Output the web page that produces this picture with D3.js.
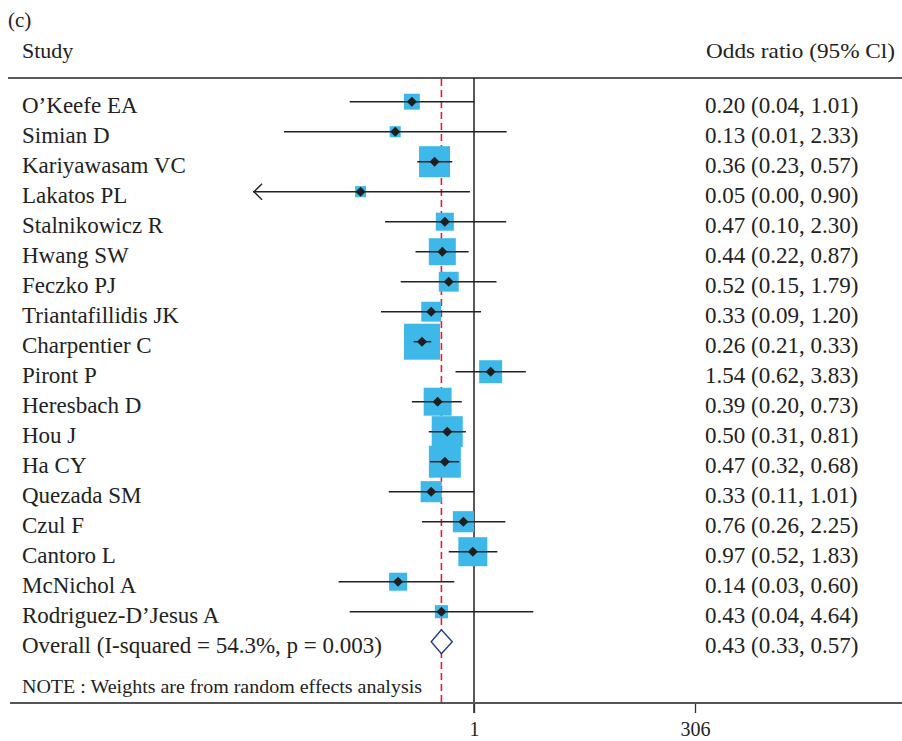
<!DOCTYPE html>
<html>
<head>
<meta charset="utf-8">
<script src="https://cdn.jsdelivr.net/npm/d3@7"></script>
<style>
  html, body { margin: 0; padding: 0; background: #ffffff; }
  svg { display: block; }
  text { font-family: "Liberation Serif", "DejaVu Serif", serif; fill: #222; }
</style>
</head>
<body>
<svg id="chart" width="902" height="741"></svg>
<script>
// ==============================
// DATA
// ==============================

const studies = [
  "O\u2019Keefe EA", "Simian D", "Kariyawasam VC", "Lakatos PL", "Stalnikowicz R",
  "Hwang SW", "Feczko PJ", "Triantafillidis JK", "Charpentier C", "Piront P",
  "Heresbach D", "Hou J", "Ha CY", "Quezada SM", "Czul F", "Cantoro L",
  "McNichol A", "Rodriguez-D\u2019Jesus A"
];

const oddsRatios = [0.20, 0.13, 0.36, 0.053, 0.47, 0.44, 0.52, 0.33, 0.26, 1.54, 0.39, 0.50, 0.47, 0.33, 0.76, 0.97, 0.14, 0.43];
const ciLower    = [0.04, 0.0073, 0.23, 0.0001, 0.10, 0.22, 0.15, 0.09, 0.21, 0.62, 0.20, 0.31, 0.32, 0.11, 0.26, 0.52, 0.03, 0.04];
const ciUpper    = [1.01, 2.33, 0.57, 0.90, 2.30, 0.87, 1.79, 1.20, 0.33, 3.83, 0.73, 0.81, 0.68, 1.01, 2.25, 1.83, 0.60, 4.64];
// weights (%)
const weights    = [2.5, 1.2, 9.5, 1.2, 3.2, 7.2, 3.9, 3.9, 12.8, 5.2, 7.7, 9.5, 10.1, 4.4, 4.4, 8.3, 3.2, 1.7];

const overallLabel = "Overall (I-squared = 54.3%, p = 0.003)";
const overall = { or: 0.43, lo: 0.33, hi: 0.57 };

const tickValues = [1, 306];
const axisDomain = [1 / 306, 306];

// ==============================
// SETUP
// ==============================

const svg = d3.select("#chart");

const x = d3.scaleLog().domain(axisDomain).range([253, 695]);
const y = d3.scalePoint().domain([...studies, overallLabel]).range([101.7, 641.7]);
const boxSize = d3.scaleSqrt().domain([0, 12.8]).range([0, 36]);

const fmt = v => v.toFixed(2);
const rows = studies.map((name, i) => ({
  name, or: oddsRatios[i], lo: ciLower[i], hi: ciUpper[i], w: weights[i]
}));

const colX = 22;
const rightX = 705;
const textDy = 11;
const rowFont = 23;

// ==============================
// HEADER
// ==============================

svg.append("text").attr("x", 8).attr("y", 27).attr("font-size", 21).text("(c)");
svg.append("text").attr("x", colX).attr("y", 58).attr("font-size", 22).text("Study");
svg.append("text").attr("x", 706).attr("y", 58).attr("font-size", 22)
  .attr("textLength", 189).attr("lengthAdjust", "spacingAndGlyphs")
  .text("Odds ratio (95% Cl)");

svg.append("line")
  .attr("x1", 8).attr("x2", 902).attr("y1", 78).attr("y2", 78)
  .attr("stroke", "#222").attr("stroke-width", 1.6);

// ==============================
// REFERENCE LINES
// ==============================

svg.append("line")
  .attr("x1", x(1)).attr("x2", x(1)).attr("y1", 78).attr("y2", 713)
  .attr("stroke", "#222").attr("stroke-width", 1.5);

svg.append("line")
  .attr("x1", x(overall.or)).attr("x2", x(overall.or)).attr("y1", 79).attr("y2", 703)
  .attr("stroke", "#f0183a").attr("stroke-width", 1.6)
  .attr("stroke-dasharray", "7,4");

// ==============================
// STUDY ROWS
// ==============================

const g = svg.append("g");

// weight boxes
g.selectAll("rect.box")
  .data(rows)
  .enter()
  .append("rect")
  .attr("class", "box")
  .attr("x", d => x(d.or) - boxSize(d.w) / 2)
  .attr("y", d => y(d.name) - boxSize(d.w) / 2)
  .attr("width", d => boxSize(d.w))
  .attr("height", d => boxSize(d.w))
  .attr("fill", "#3db8e8");

// confidence intervals
g.selectAll("line.ci")
  .data(rows)
  .enter()
  .append("line")
  .attr("class", "ci")
  .attr("x1", d => x(Math.max(d.lo, axisDomain[0])))
  .attr("x2", d => x(Math.min(d.hi, axisDomain[1])))
  .attr("y1", d => y(d.name))
  .attr("y2", d => y(d.name))
  .attr("stroke", "#222")
  .attr("stroke-width", 1.5);

// arrows for clipped intervals
g.selectAll("path.arrow")
  .data(rows.filter(d => d.lo < axisDomain[0]))
  .enter()
  .append("path")
  .attr("class", "arrow")
  .attr("d", d => {
    const tx = x(axisDomain[0]) + 1;
    const ty = y(d.name);
    return `M${tx + 8},${ty - 8} L${tx},${ty} L${tx + 8},${ty + 8}`;
  })
  .attr("fill", "none")
  .attr("stroke", "#222")
  .attr("stroke-width", 1.4);

// point estimates
g.selectAll("path.point")
  .data(rows)
  .enter()
  .append("path")
  .attr("class", "point")
  .attr("d", d => {
    const cx = x(d.or), cy = y(d.name), r = 5;
    return `M${cx},${cy - r} L${cx + r},${cy} L${cx},${cy + r} L${cx - r},${cy} Z`;
  })
  .attr("fill", "#1e1e1e");

// labels
g.selectAll("text.study")
  .data(rows)
  .enter()
  .append("text")
  .attr("class", "study")
  .attr("x", colX)
  .attr("y", d => y(d.name) + textDy)
  .attr("font-size", rowFont)
  .text(d => d.name);

g.selectAll("text.est")
  .data(rows)
  .enter()
  .append("text")
  .attr("class", "est")
  .attr("x", rightX)
  .attr("y", d => y(d.name) + textDy)
  .attr("font-size", rowFont)
  .text(d => `${fmt(d.or)} (${fmt(d.lo)}, ${fmt(d.hi)})`);

// ==============================
// OVERALL
// ==============================

const oy = y(overallLabel);

svg.append("path")
  .attr("d", `M${x(overall.lo)},${oy} L${x(overall.or)},${oy - 12} L${x(overall.hi)},${oy} L${x(overall.or)},${oy + 12} Z`)
  .attr("fill", "#ffffff")
  .attr("stroke", "#1f3c88")
  .attr("stroke-width", 1.4);

svg.append("text").attr("x", colX).attr("y", oy + textDy).attr("font-size", rowFont).text(overallLabel);
svg.append("text").attr("x", rightX).attr("y", oy + textDy).attr("font-size", rowFont)
  .text(`${fmt(overall.or)} (${fmt(overall.lo)}, ${fmt(overall.hi)})`);

svg.append("text").attr("x", colX).attr("y", 693).attr("font-size", 19)
  .attr("textLength", 400).attr("lengthAdjust", "spacingAndGlyphs")
  .text("NOTE : Weights are from random effects analysis");

// ==============================
// AXIS
// ==============================

const axis = d3.axisBottom(x).tickValues(tickValues).tickFormat(d3.format("d")).tickSize(10);

const axisG = svg.append("g").attr("transform", "translate(0,703)").call(axis);
axisG.select(".domain").remove();
axisG.selectAll(".tick line").attr("stroke", "#333").attr("stroke-width", 1.3);
axisG.selectAll(".tick text")
  .attr("y", 19)
  .attr("font-size", 20)
  .attr("font-family", "Liberation Serif, DejaVu Serif, serif")
  .attr("fill", "#222");

svg.append("line")
  .attr("x1", 10).attr("x2", 902).attr("y1", 703).attr("y2", 703)
  .attr("stroke", "#555").attr("stroke-width", 2);
</script>
</body>
</html>
